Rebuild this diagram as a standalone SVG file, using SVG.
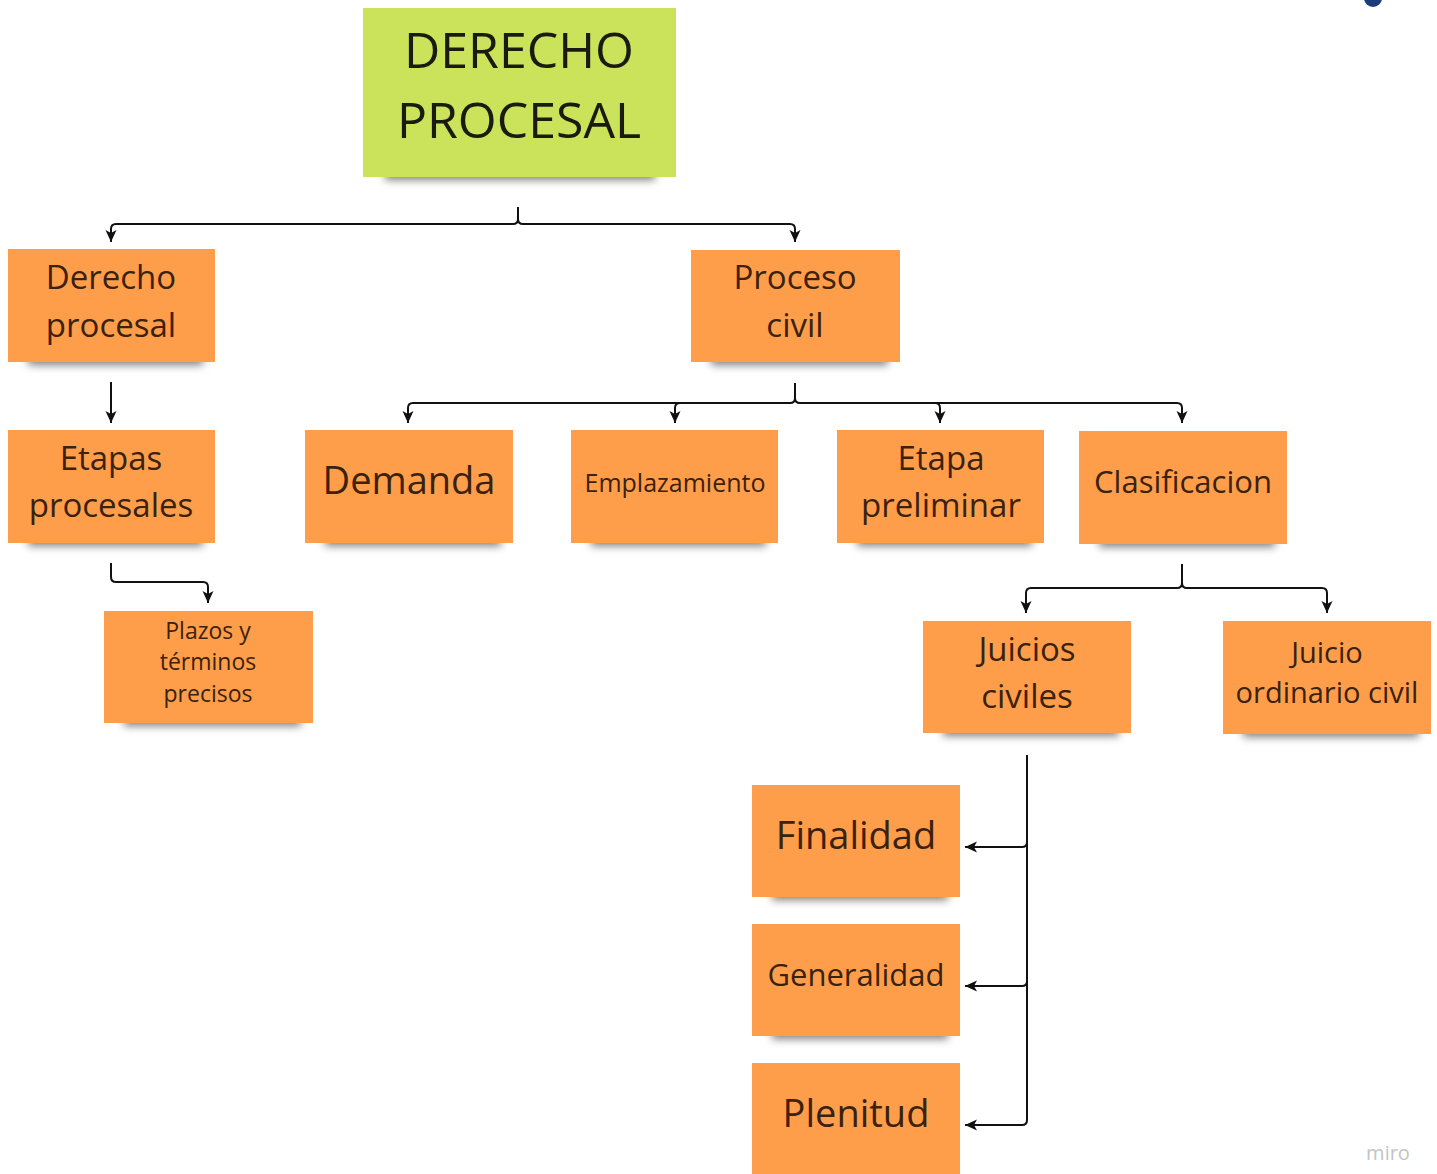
<svg xmlns="http://www.w3.org/2000/svg" width="1437" height="1174" viewBox="0 0 1437 1174">
  <defs>
    <filter id="blur" x="-20%" y="-100%" width="140%" height="300%">
      <feGaussianBlur stdDeviation="4"/>
    </filter>
    <marker id="arr" viewBox="0 0 12 12" refX="12" refY="6" markerWidth="12" markerHeight="12" markerUnits="userSpaceOnUse" orient="auto">
      <path d="M0,0.5 L12,6 L0,11.5 L3,6 Z" fill="#111"/>
    </marker>
  </defs>
  <style>
    .note { fill: #FE9E4B; }
    .green { fill: #CBE35A; }
    .shadow { fill: #000; opacity: 0.5; filter: url(#blur); }
    text { font-family: "Open Sans", "Noto Sans", "DejaVu Sans", sans-serif; fill: #3a220e; text-anchor: middle; }
    .title { fill: #1a1a10; font-size: 50px; }
    .conn path { fill: none; stroke: #111; stroke-width: 2; }
    .conn path.a { marker-end: url(#arr); }
  </style>
  <rect width="1437" height="1174" fill="#ffffff"/>

  <g id="root">
    <rect class="shadow" x="385" y="166" width="270" height="14"/>
    <rect class="green" x="363" y="8" width="313" height="169"/>
    <text class="title" x="519" y="68">DERECHO</text>
    <text class="title" x="519" y="138">PROCESAL</text>
  </g>

  <g id="derecho-procesal">
    <rect class="shadow" x="28" y="352" width="175" height="13"/>
    <rect class="note" x="8" y="249" width="207" height="113"/>
    <text x="111" y="289" font-size="33">Derecho</text>
    <text x="111" y="337" font-size="33">procesal</text>
  </g>

  <g id="proceso-civil">
    <rect class="shadow" x="711" y="352" width="177" height="13"/>
    <rect class="note" x="691" y="250" width="209" height="112"/>
    <text x="795" y="289" font-size="33">Proceso</text>
    <text x="795" y="337" font-size="33">civil</text>
  </g>

  <g id="etapas-procesales">
    <rect class="shadow" x="28" y="533" width="175" height="13"/>
    <rect class="note" x="8" y="430" width="207" height="113"/>
    <text x="111" y="470" font-size="33">Etapas</text>
    <text x="111" y="517" font-size="33">procesales</text>
  </g>

  <g id="demanda">
    <rect class="shadow" x="325" y="533" width="176" height="13"/>
    <rect class="note" x="305" y="430" width="208" height="113"/>
    <text x="409" y="494" font-size="38">Demanda</text>
  </g>

  <g id="emplazamiento">
    <rect class="shadow" x="591" y="533" width="175" height="13"/>
    <rect class="note" x="571" y="430" width="207" height="113"/>
    <text x="675" y="492" font-size="25">Emplazamiento</text>
  </g>

  <g id="etapa-preliminar">
    <rect class="shadow" x="857" y="533" width="175" height="13"/>
    <rect class="note" x="837" y="430" width="207" height="113"/>
    <text x="941" y="470" font-size="33">Etapa</text>
    <text x="941" y="517" font-size="33">preliminar</text>
  </g>

  <g id="clasificacion">
    <rect class="shadow" x="1099" y="534" width="176" height="13"/>
    <rect class="note" x="1079" y="431" width="208" height="113"/>
    <text x="1183" y="493" font-size="31">Clasificacion</text>
  </g>

  <g id="plazos">
    <rect class="shadow" x="124" y="713" width="177" height="13"/>
    <rect class="note" x="104" y="611" width="209" height="112"/>
    <text x="208" y="639" font-size="23">Plazos y</text>
    <text x="208" y="670" font-size="23">términos</text>
    <text x="208" y="702" font-size="23">precisos</text>
  </g>

  <g id="juicios-civiles">
    <rect class="shadow" x="943" y="723" width="176" height="13"/>
    <rect class="note" x="923" y="621" width="208" height="112"/>
    <text x="1027" y="661" font-size="33">Juicios</text>
    <text x="1027" y="708" font-size="33">civiles</text>
  </g>

  <g id="juicio-ordinario">
    <rect class="shadow" x="1243" y="724" width="176" height="13"/>
    <rect class="note" x="1223" y="621" width="208" height="113"/>
    <text x="1327" y="663" font-size="29">Juicio</text>
    <text x="1327" y="703" font-size="29">ordinario civil</text>
  </g>

  <g id="finalidad">
    <rect class="shadow" x="772" y="887" width="176" height="13"/>
    <rect class="note" x="752" y="785" width="208" height="112"/>
    <text x="856" y="849" font-size="38">Finalidad</text>
  </g>

  <g id="generalidad">
    <rect class="shadow" x="772" y="1026" width="176" height="13"/>
    <rect class="note" x="752" y="924" width="208" height="112"/>
    <text x="856" y="986" font-size="31">Generalidad</text>
  </g>

  <g id="plenitud">
    <rect class="note" x="752" y="1063" width="208" height="115"/>
    <text x="856" y="1127" font-size="38">Plenitud</text>
  </g>

  <g class="conn" id="connectors">
    <path class="a" d="M518,207 V219 Q518,224 513,224 H116 Q111,224 111,229 V242"/>
    <path class="a" d="M518,219 Q518,224 523,224 H790 Q795,224 795,229 V242"/>
    <path class="a" d="M111,382 V423"/>
    <path class="a" d="M795,383 V398 Q795,403 790,403 H413 Q408,403 408,408 V423"/>
    <path class="a" d="M795,398 Q795,403 800,403 H1177 Q1182,403 1182,408 V423"/>
    <path class="a" d="M680,403 Q675,403 675,408 V423"/>
    <path class="a" d="M935,403 Q940,403 940,408 V423"/>
    <path class="a" d="M111,563 V577 Q111,582 116,582 H203 Q208,582 208,587 V603"/>
    <path class="a" d="M1182,564 V583 Q1182,588 1177,588 H1031 Q1026,588 1026,593 V613"/>
    <path class="a" d="M1182,583 Q1182,588 1187,588 H1322 Q1327,588 1327,593 V613"/>
    <path class="a" d="M1027,755 V1120 Q1027,1125 1022,1125 H965"/>
    <path class="a" d="M1027,842 Q1027,847 1022,847 H965"/>
    <path class="a" d="M1027,981 Q1027,986 1022,986 H965"/>
  </g>

  <circle cx="1373" cy="-2" r="9" fill="#1c3d7c"/>
  <text x="1388" y="1160" font-size="20" style="fill:#c4c4c4">miro</text>
</svg>
